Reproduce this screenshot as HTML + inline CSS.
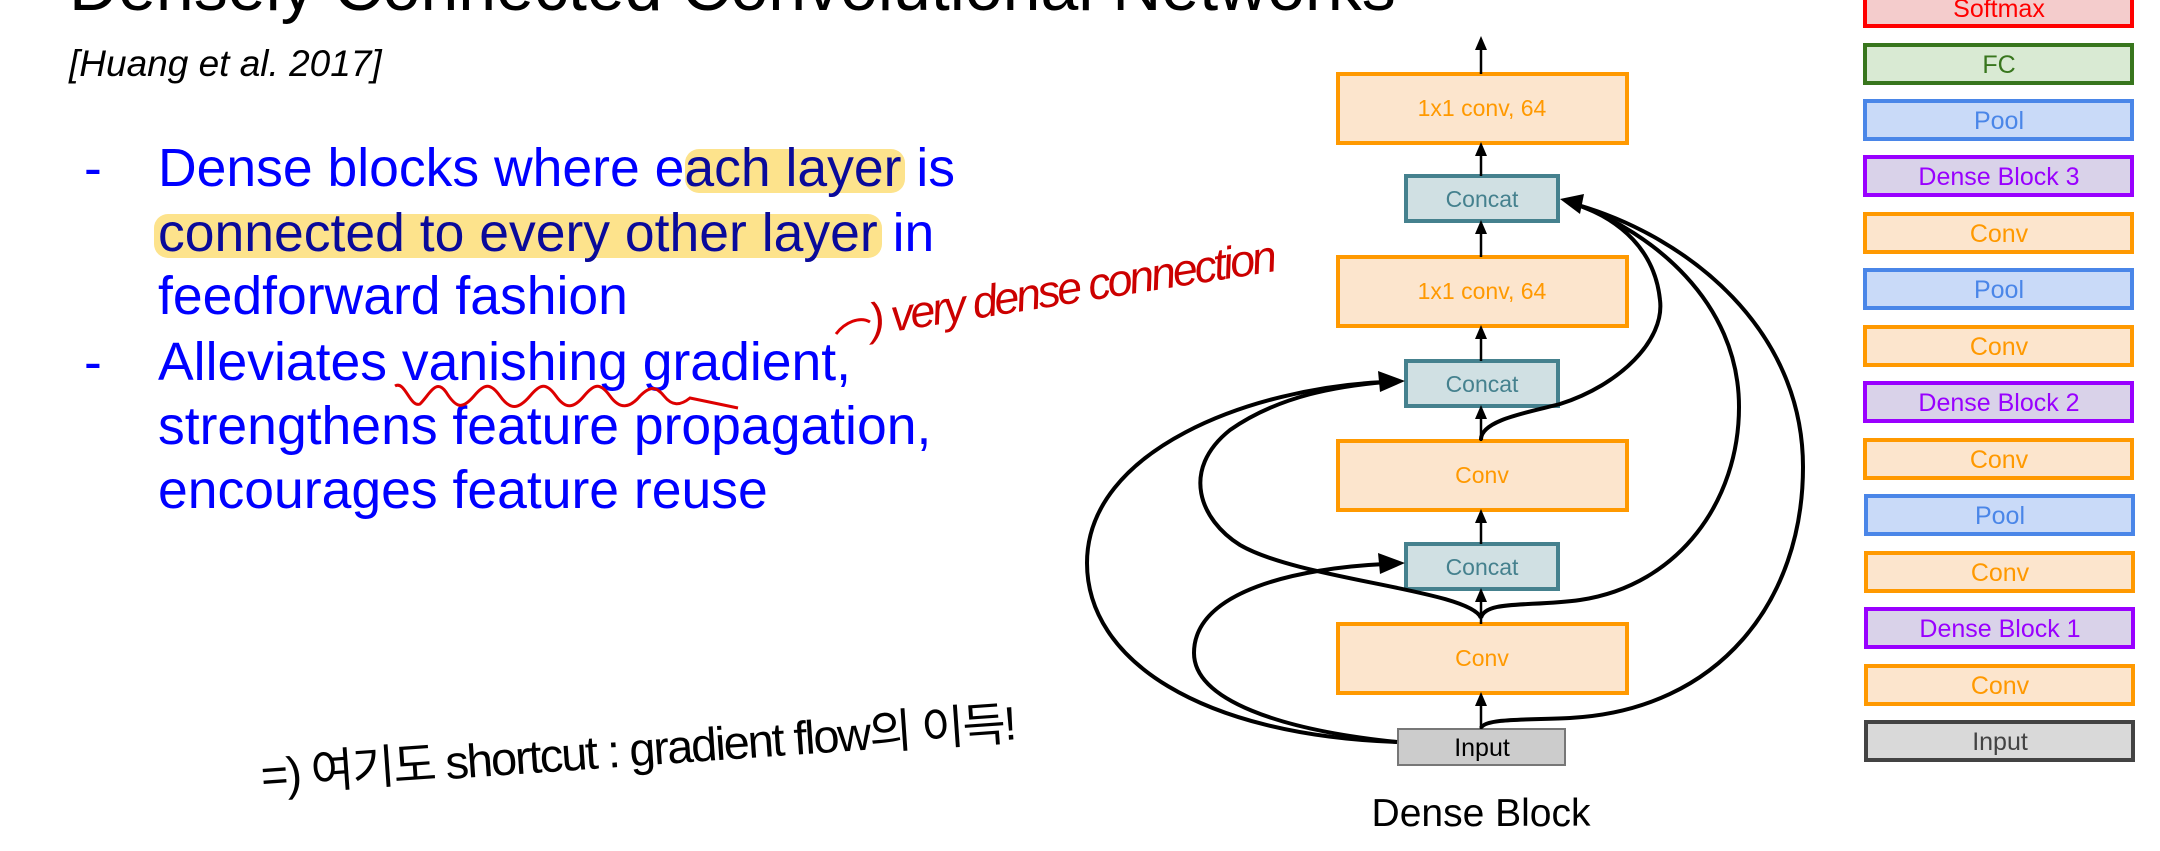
<!DOCTYPE html>
<html><head><meta charset="utf-8"><style>
html,body{margin:0;padding:0;background:#fff;}
body{width:2160px;height:851px;overflow:hidden;position:relative;}
svg{position:absolute;left:0;top:0;}
</style></head><body>
<svg width="2160" height="851" viewBox="0 0 2160 851" xmlns="http://www.w3.org/2000/svg" font-family="Liberation Sans, Noto Sans CJK KR, sans-serif">
<text x="69" y="10" font-size="68" fill="#000">Densely Connected Convolutional Networks</text>
<text x="69" y="76" font-size="37" font-style="italic" fill="#000">[Huang et al. 2017]</text>
<rect x="685" y="149" width="220" height="44" rx="14" fill="#fde38c"/>
<rect x="154" y="214" width="728" height="44" rx="14" fill="#fde38c"/>
<g font-size="53.5" fill="#0000ff">
<text x="84" y="186">-</text>
<text x="158" y="186">Dense blocks where e<tspan fill="#0a0a9a">ach layer</tspan> is</text>
<text x="158" y="251"><tspan fill="#0a0a9a">connected to every other layer</tspan> in</text>
<text x="158" y="314">feedforward fashion</text>
<text x="84" y="380">-</text>
<text x="158" y="380">Alleviates vanishing gradient,</text>
<text x="158" y="444">strengthens feature propagation,</text>
<text x="158" y="508">encourages feature reuse</text>
</g>
<path d="M395,386 C405,380 410,408 420,404 C430,394 436,378 446,392 C456,408 462,410 474,396 C484,384 490,382 500,396 C510,410 518,410 530,396 C540,384 546,382 556,396 C566,410 574,408 584,396 C594,384 600,382 610,396 C620,410 630,408 640,396 C650,386 656,386 664,396 C672,406 680,406 690,398 L738,408" fill="none" stroke="#d00" stroke-width="3"/>
<path d="M836,334 C845,322 860,316 870,322" fill="none" stroke="#d00" stroke-width="3"/>
<text x="872" y="335" font-size="45" fill="#c00" font-style="italic" transform="rotate(-9 872 335)" letter-spacing="-3">) very dense connection</text>
<text x="262" y="792" font-size="47" fill="#000" transform="rotate(-4 262 792)" letter-spacing="-2">=) 여기도 shortcut : gradient flow의 이득!</text>

<g stroke-width="4">
<rect x="1338" y="74" width="289" height="69" fill="#fce5cd" stroke="#ff9900"/>
<rect x="1406" y="176" width="152" height="45" fill="#d0e0e3" stroke="#45818e"/>
<rect x="1338" y="257" width="289" height="69" fill="#fce5cd" stroke="#ff9900"/>
<rect x="1406" y="361" width="152" height="45" fill="#d0e0e3" stroke="#45818e"/>
<rect x="1338" y="441" width="289" height="69" fill="#fce5cd" stroke="#ff9900"/>
<rect x="1406" y="544" width="152" height="45" fill="#d0e0e3" stroke="#45818e"/>
<rect x="1338" y="624" width="289" height="69" fill="#fce5cd" stroke="#ff9900"/>
<rect x="1398" y="729" width="167" height="36" fill="#cccccc" stroke="#777" stroke-width="2"/>
</g>
<g font-size="23" text-anchor="middle">
<text x="1482" y="116" fill="#ff9900">1x1 conv, 64</text>
<text x="1482" y="207" fill="#45818e">Concat</text>
<text x="1482" y="299" fill="#ff9900">1x1 conv, 64</text>
<text x="1482" y="392" fill="#45818e">Concat</text>
<text x="1482" y="483" fill="#ff9900">Conv</text>
<text x="1482" y="575" fill="#45818e">Concat</text>
<text x="1482" y="666" fill="#ff9900">Conv</text>
<text x="1482" y="756" fill="#000" font-size="25">Input</text>
</g>
<text x="1481" y="826" font-size="39" text-anchor="middle" fill="#000">Dense Block</text>
<g stroke="#000" stroke-width="2.5">
<line x1="1481" y1="74" x2="1481" y2="46"/>
<line x1="1481" y1="176" x2="1481" y2="152"/>
<line x1="1481" y1="257" x2="1481" y2="230"/>
<line x1="1481" y1="361" x2="1481" y2="335"/>
<line x1="1481" y1="441" x2="1481" y2="415"/>
<line x1="1481" y1="544" x2="1481" y2="519"/>
<line x1="1481" y1="624" x2="1481" y2="598"/>
<line x1="1481" y1="729" x2="1481" y2="702"/>
</g>
<g fill="#000">
<path d="M1475,50 L1481,36 L1487,50Z"/>
<path d="M1475,156 L1481,142 L1487,156Z"/>
<path d="M1475,234 L1481,220 L1487,234Z"/>
<path d="M1475,339 L1481,325 L1487,339Z"/>
<path d="M1475,419 L1481,405 L1487,419Z"/>
<path d="M1475,523 L1481,509 L1487,523Z"/>
<path d="M1475,602 L1481,588 L1487,602Z"/>
<path d="M1475,706 L1481,692 L1487,706Z"/>
</g>
<g fill="none" stroke="#000" stroke-width="4">
<path d="M1397,742 C1200,735 1087,660 1087,563 C1087,450 1250,388 1385,382"/>
<path d="M1397,742 C1280,730 1194,700 1194,653 C1194,590 1300,568 1385,564"/>
<path d="M1481,618 C1470,590 1300,580 1240,545 C1200,520 1180,470 1230,430 C1280,395 1340,386 1385,382"/>
<path d="M1481,440 C1480,420 1530,412 1560,404 C1620,385 1665,340 1660,300 C1655,250 1620,220 1578,205"/>
<path d="M1481,618 C1485,600 1530,607 1580,600 C1680,585 1739,500 1739,407 C1739,300 1650,232 1578,205"/>
<path d="M1481,728 C1485,718 1530,720 1570,718 C1720,710 1803,600 1803,467 C1803,330 1690,238 1578,205"/>
</g>
<g fill="#000">
<path d="M1405,381 L1378,371 L1380,392Z"/>
<path d="M1405,563 L1378,553 L1380,574Z"/>
<path d="M1560,199 L1584,194 L1580,214Z"/>
</g>

<g stroke-width="4">
<rect x="1865" y="-12" width="267" height="38" fill="#f4cccc" stroke="#ff0000"/>
<rect x="1865" y="45" width="267" height="38" fill="#d9ead3" stroke="#38761d"/>
<rect x="1865" y="101" width="267" height="38" fill="#c9daf8" stroke="#4a86e8"/>
<rect x="1865" y="157" width="267" height="38" fill="#d9d2e9" stroke="#9900ff"/>
<rect x="1865" y="214" width="267" height="38" fill="#fce5cd" stroke="#ff9900"/>
<rect x="1865" y="270" width="267" height="38" fill="#c9daf8" stroke="#4a86e8"/>
<rect x="1865" y="327" width="267" height="38" fill="#fce5cd" stroke="#ff9900"/>
<rect x="1865" y="383" width="267" height="38" fill="#d9d2e9" stroke="#9900ff"/>
<rect x="1865" y="440" width="267" height="38" fill="#fce5cd" stroke="#ff9900"/>
<rect x="1866" y="496" width="267" height="38" fill="#c9daf8" stroke="#4a86e8"/>
<rect x="1866" y="553" width="267" height="38" fill="#fce5cd" stroke="#ff9900"/>
<rect x="1866" y="609" width="267" height="38" fill="#d9d2e9" stroke="#9900ff"/>
<rect x="1866" y="666" width="267" height="38" fill="#fce5cd" stroke="#ff9900"/>
<rect x="1866" y="722" width="267" height="38" fill="#d9d9d9" stroke="#434343"/>
</g>
<g font-size="25" text-anchor="middle">
<text x="1999" y="17" fill="#ff0000">Softmax</text>
<text x="1999" y="73" fill="#38761d">FC</text>
<text x="1999" y="129" fill="#4a86e8">Pool</text>
<text x="1999" y="185" fill="#9900ff">Dense Block 3</text>
<text x="1999" y="242" fill="#ff9900">Conv</text>
<text x="1999" y="298" fill="#4a86e8">Pool</text>
<text x="1999" y="355" fill="#ff9900">Conv</text>
<text x="1999" y="411" fill="#9900ff">Dense Block 2</text>
<text x="1999" y="468" fill="#ff9900">Conv</text>
<text x="2000" y="524" fill="#4a86e8">Pool</text>
<text x="2000" y="581" fill="#ff9900">Conv</text>
<text x="2000" y="637" fill="#9900ff">Dense Block 1</text>
<text x="2000" y="694" fill="#ff9900">Conv</text>
<text x="2000" y="750" fill="#434343">Input</text>
</g>
</svg>
</body></html>
